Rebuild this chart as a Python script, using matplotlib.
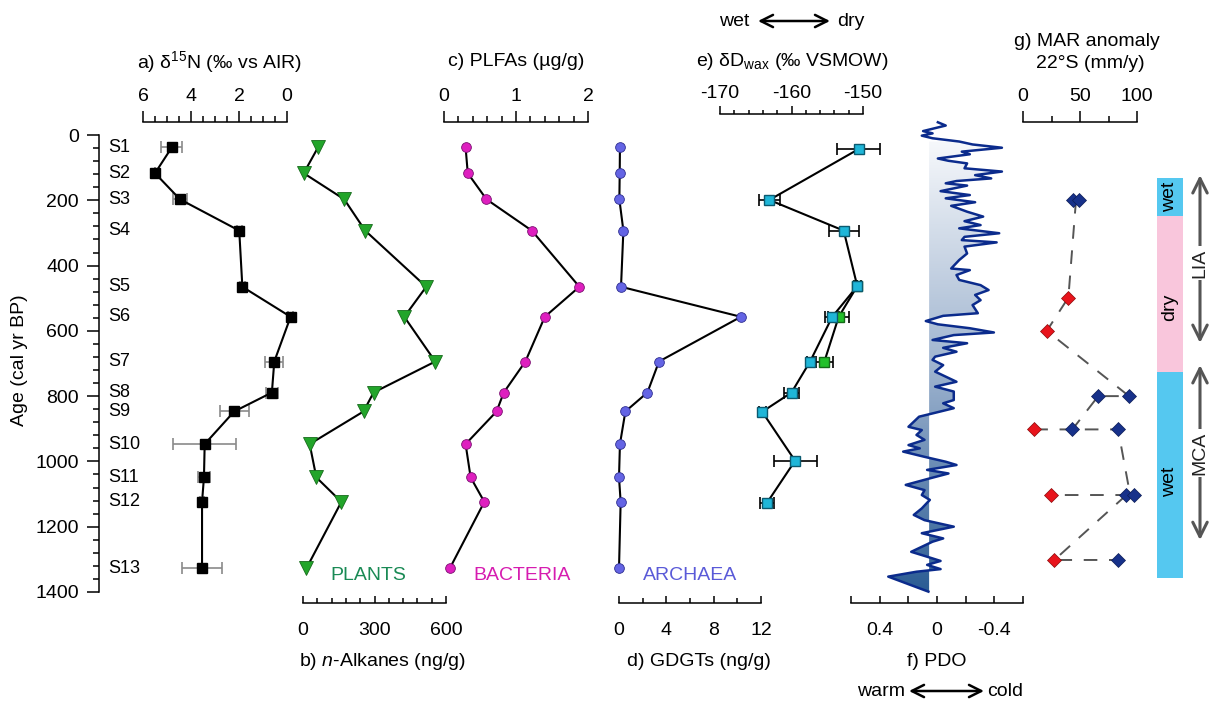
import matplotlib.pyplot as plt
import numpy as np
from matplotlib.ticker import MultipleLocator, FixedLocator
from matplotlib.colors import LinearSegmentedColormap

plt.rcParams['font.family'] = ['Liberation Sans', 'DejaVu Sans']
plt.rcParams['mathtext.fontset'] = 'custom'
plt.rcParams['mathtext.rm'] = 'Liberation Sans'
plt.rcParams['mathtext.it'] = 'Liberation Sans:italic'
plt.rcParams['axes.unicode_minus'] = False
plt.rcParams['font.size'] = 14

# ---- data ----
sample_names = ['S1', 'S2', 'S3', 'S4', 'S5', 'S6', 'S7', 'S8', 'S9', 'S10', 'S11', 'S12', 'S13']
sample_age = [38, 117, 197, 293, 465, 557, 694, 789, 847, 947, 1049, 1124, 1328]

d15n = [4.8, 5.5, 4.46, 1.99, 1.86, -0.15, 0.53, 0.63, 2.2, 3.43, 3.46, 3.54, 3.54]
d15n_err = [0.44, 0.0, 0.28, 0.1, 0.1, 0.1, 0.38, 0.25, 0.6, 1.3, 0.24, 0.1, 0.82]

alkanes = [63, 3, 173, 261, 517, 425, 555, 296, 254, 28, 56, 161, 14]
plfa = [0.30, 0.33, 0.59, 1.22, 1.88, 1.40, 1.13, 0.83, 0.73, 0.30, 0.37, 0.56, 0.08]
gdgt = [0.08, 0.06, 0.03, 0.37, 0.17, 10.3, 3.38, 2.4, 0.54, 0.08, 0.0, 0.14, 0.0]

dd_age = [43, 199, 293, 463, 557, 694, 789, 848, 998, 1126]
dd_val = [-150.6, -163.1, -152.7, -150.8, -154.3, -157.4, -160.0, -164.1, -159.5, -163.4]
dd_err = [3.0, 1.5, 2.1, 0.5, 1.0, 0.5, 1.1, 0.5, 3.0, 1.0]
dd2_age = [463, 557, 694]
dd2_val = [-150.8, -153.4, -155.4]
dd2_err = [0.0, 1.5, 1.2]

pdo_age = [-39, -29, -12, -5, 2, 10, 20, 29, 39, 51, 59, 72, 79, 87, 102, 112, 123, 133,
           141, 148, 155, 172, 184, 194, 206, 217, 235, 250, 264, 276, 286, 301, 312, 322,
           329, 342, 363, 383, 409, 414, 429, 444, 460, 475, 490, 506, 521, 546, 554, 570,
           580, 592, 605, 613, 628, 638, 652, 664, 679, 689, 705, 725, 756, 771, 786, 812,
           822, 837, 853, 863, 894, 904, 919, 934, 950, 960, 970, 986, 1001, 1011, 1026,
           1037, 1052, 1072, 1088, 1103, 1118, 1144, 1164, 1180, 1200, 1220, 1236, 1246,
           1277, 1292, 1305, 1317, 1330, 1338, 1353, 1399]
pdo_val = [-0.006, -0.061, 0.097, 0.031, 0.106, 0.031, -0.155, -0.248, -0.453, -0.173,
           -0.229, -0.006, -0.080, -0.210, -0.192, -0.453, -0.266, -0.378, -0.136, -0.061,
           -0.210, -0.025, -0.229, -0.061, -0.266, -0.099, -0.210, -0.322, -0.192, -0.304,
           -0.155, -0.434, -0.192, -0.173, -0.416, -0.192, -0.210, -0.155, -0.099, -0.229,
           -0.136, -0.155, -0.304, -0.360, -0.266, -0.304, -0.248, -0.285, -0.043, 0.078,
           -0.006, -0.229, -0.397, -0.117, 0.031, -0.210, -0.043, -0.136, 0.013, 0.031,
           -0.043, 0.013, -0.136, 0.013, -0.117, -0.117, -0.043, -0.117, 0.031, 0.125,
           0.199, 0.106, 0.143, 0.087, 0.199, 0.120, 0.236, 0.087, -0.061, -0.136, 0.069,
           -0.080, 0.050, 0.218, 0.087, 0.106, 0.050, 0.106, 0.162, 0.087, -0.117, 0.106,
           -0.043, 0.031, 0.180, 0.069, -0.025, 0.069, -0.025, 0.143, 0.340, 0.060]
pdo_base = 0.055

mar_blue_age = [199, 199, 800, 800, 902, 902, 1103, 1103, 1302]
mar_blue_val = [43.6, 49.4, 66, 93, 43.3, 83.4, 90.7, 97.1, 83.4]
mar_red_age = [498, 600, 902, 1103, 1302]
mar_red_val = [39.8, 20.9, 9.9, 24.4, 27.5]
mar_paths = [([199, 498, 600, 800, 800, 902], [46.5, 39.8, 20.9, 93, 66, 43.3]),
             ([902, 902, 1103, 1103], [9.9, 83.4, 94, 24.4]),
             ([1103, 1302, 1302], [90.7, 27.5, 83.4])]

period_edges = [133, 248, 725, 1358]
period_names = ['wet', 'dry', 'wet']
period_colors = ['#55c8f0', '#f9c6dc', '#55c8f0']

# ---- layout helpers (pixels) ----
W, H = 1213, 701
fig = plt.figure(figsize=(W / 100, H / 100), dpi=100)


def age_of(ypx):
    return (ypx - 135) / 0.3264


def rect(x0, x1, y0=122, y1=603):
    return [x0 / W, 1 - y1 / H, (x1 - x0) / W, (y1 - y0) / H]


def panel(x0, x1, xlim, side, y0=122, y1=603):
    ax = fig.add_axes(rect(x0, x1, y0, y1))
    ax.set_xlim(*xlim)
    ax.set_ylim(age_of(y1), age_of(y0))
    ax.patch.set_visible(False)
    for s in ax.spines.values():
        s.set_visible(False)
    ax.spines[side].set_visible(True)
    ax.spines[side].set_linewidth(1.1)
    ax.yaxis.set_visible(False)
    ax.xaxis.set_ticks_position(side)
    if side == 'top':
        ax.tick_params(axis='x', which='major', direction='out', length=8, width=1.1, pad=4)
        ax.tick_params(axis='x', which='minor', direction='out', length=4, width=1.1)
    else:
        ax.tick_params(axis='x', which='major', direction='in', length=5, width=1.1, pad=14)
        ax.tick_params(axis='x', which='minor', direction='in', length=3.5, width=1.1)
    return ax


def ftext(x, y, s, **kw):
    fig.text(x / W, 1 - y / H, s, **kw)


def farrow(x0, x1, y):
    fig.add_artist(plt.Annotation('', xy=(x1 / W, 1 - y / H), xytext=(x0 / W, 1 - y / H),
                                  xycoords='figure fraction',
                                  arrowprops=dict(arrowstyle='<->', lw=1.8, color='black',
                                                  mutation_scale=22, shrinkA=0, shrinkB=0)))


# ---- age axis ----
ax0 = fig.add_axes(rect(99, 140))
ax0.set_ylim(age_of(603), age_of(122))
ax0.patch.set_visible(False)
for s in ['top', 'right', 'bottom']:
    ax0.spines[s].set_visible(False)
ax0.spines['left'].set_bounds(0, 1400)
ax0.spines['left'].set_linewidth(1.1)
ax0.set_xticks([])
ax0.set_yticks(np.arange(0, 1401, 200))
ax0.yaxis.set_minor_locator(FixedLocator([v for v in range(0, 1401, 40) if v % 200]))
ax0.tick_params(axis='y', which='major', length=8.5, width=1.1, pad=6)
ax0.tick_params(axis='y', which='minor', length=4, width=1.1)
ax0.set_xlim(0, 1)
for name, a in zip(sample_names, sample_age):
    ax0.text(0.22, a, name, fontsize=13, va='center', ha='left')
ftext(20, 360, 'Age (cal yr BP)', rotation=90, ha='center', va='center')

# ---- a) d15N ----
ax_a = panel(143, 287, (6, 0), 'top')
ax_a.xaxis.set_major_locator(MultipleLocator(2))
ax_a.xaxis.set_minor_locator(MultipleLocator(0.5))
ax_a.errorbar(d15n, sample_age, xerr=d15n_err, fmt='s-', color='black', ms=7, lw=1.5,
              ecolor='#8a8a8a', elinewidth=1.2, capsize=4, capthick=1.2, clip_on=False)
ftext(220, 62, 'a) δ$^{15}$N (‰ vs AIR)', ha='center', va='center')

# ---- b) n-alkanes ----
ax_b = panel(303, 446, (0, 600), 'bottom')
ax_b.xaxis.set_major_locator(MultipleLocator(300))
ax_b.xaxis.set_minor_locator(MultipleLocator(60))
ax_b.plot(alkanes, sample_age, '-', color='black', lw=1.5, zorder=2, clip_on=False)
ax_b.plot(alkanes, sample_age, 'v', ms=9.5, mfc='#22a52a', mec='#176b1c', mew=0.6,
          zorder=3, clip_on=False)
ftext(368, 576, 'PLANTS', color='#1a8a55', ha='center', va='center')
ftext(382, 662, 'b) $\\mathit{n}$-Alkanes (ng/g)', ha='center', va='center')

# ---- c) PLFAs ----
ax_c = panel(444, 588, (0, 2), 'top')
ax_c.xaxis.set_major_locator(MultipleLocator(1))
ax_c.xaxis.set_minor_locator(MultipleLocator(0.2))
ax_c.plot(plfa, sample_age, '-', color='black', lw=1.5, zorder=2, clip_on=False)
ax_c.plot(plfa, sample_age, 'o', ms=7, mfc='#de1fbf', mec='#7a1070', mew=0.6,
          zorder=3, clip_on=False)
ftext(522, 576, 'BACTERIA', color='#d61cb0', ha='center', va='center')
ftext(516, 62, 'c) PLFAs (µg/g)', ha='center', va='center')

# ---- d) GDGTs ----
ax_d = panel(619, 761, (0, 12), 'bottom')
ax_d.xaxis.set_major_locator(MultipleLocator(4))
ax_d.xaxis.set_minor_locator(MultipleLocator(2))
ax_d.plot(gdgt, sample_age, '-', color='black', lw=1.5, zorder=2, clip_on=False)
ax_d.plot(gdgt, sample_age, 'o', ms=7, mfc='#6464e4', mec='#2e2e90', mew=0.6,
          zorder=3, clip_on=False)
ftext(690, 576, 'ARCHAEA', color='#5a5ad8', ha='center', va='center')
ftext(699, 662, 'd) GDGTs (ng/g)', ha='center', va='center')

# ---- e) dD wax ----
ax_e = panel(720, 863, (-170, -150), 'top', y0=114)
ax_e.xaxis.set_major_locator(MultipleLocator(10))
ax_e.xaxis.set_minor_locator(MultipleLocator(2))
ax_e.tick_params(axis='x', which='major', length=6, pad=3)
ax_e.tick_params(axis='x', which='minor', length=3)
ax_e.errorbar(dd2_val, dd2_age, xerr=dd2_err, fmt='s-', color='black', mfc='#22c02a',
              mec='#146a18', ms=7, lw=1.5, ecolor='black', elinewidth=1.2, capsize=4.5,
              capthick=1.2, clip_on=False)
ax_e.errorbar(dd_val, dd_age, xerr=dd_err, fmt='s-', color='black', mfc='#1fb6d8',
              mec='#0b5a70', ms=7, lw=1.5, ecolor='black', elinewidth=1.2, capsize=4.5,
              capthick=1.2, clip_on=False)
ftext(792, 62, 'e) δD$_{\\mathrm{wax}}$ (‰ VSMOW)', ha='center', va='center')
ftext(749, 21, 'wet', ha='right', va='center')
ftext(837, 21, 'dry', ha='left', va='center')
farrow(758, 830, 21)

# ---- f) PDO ----
ax_f = panel(851, 1023, (0.6, -0.6), 'bottom')
ax_f.xaxis.set_major_locator(FixedLocator([0.4, 0, -0.4]))
ax_f.xaxis.set_minor_locator(FixedLocator([0.6, 0.2, -0.2, -0.6]))
ax_f.set_xticklabels(['0.4', '0', '-0.4'])
ax_f.tick_params(axis='x', which='minor', length=5)
pa = np.array(pdo_age, float)
pv = np.array(pdo_val, float)
m = pa >= 20
poly = ax_f.fill_betweenx(pa[m], pdo_base, pv[m], facecolor='none', edgecolor='none')
grad = np.linspace(0, 1, 256).reshape(-1, 1)
cmap = LinearSegmentedColormap.from_list('pdo', ['#f6f8fb', '#9fb4cf', '#2b5c94'])
im = ax_f.imshow(grad, cmap=cmap, aspect='auto', extent=(0.6, -0.6, 1400, 20),
                 origin='upper', zorder=1)
im.set_clip_path(poly.get_paths()[0], transform=ax_f.transData)
ax_f.set_xlim(0.6, -0.6)
ax_f.set_ylim(age_of(603), age_of(122))
ax_f.plot(pv, pa, '-', color='#0b2b8c', lw=1.8, zorder=3, clip_on=False)
ftext(937, 661, 'f) PDO', ha='center', va='center')
ftext(905, 691, 'warm', ha='right', va='center')
ftext(987, 691, 'cold', ha='left', va='center')
farrow(909, 984, 691)

# ---- g) MAR anomaly ----
ax_g = panel(1023, 1137, (0, 100), 'top')
ax_g.xaxis.set_major_locator(MultipleLocator(50))
ax_g.xaxis.set_minor_locator(MultipleLocator(25))
for ages, vals in mar_paths:
    ax_g.plot(vals, ages, color='#555555', lw=1.4, dashes=(7, 6), zorder=2, clip_on=False)
ax_g.plot(mar_blue_val, mar_blue_age, 'D', ms=7.5, mfc='#17318a', mec='#0c1c55', mew=0.5,
          zorder=3, clip_on=False)
ax_g.plot(mar_red_val, mar_red_age, 'D', ms=7.5, mfc='#e8141c', mec='#8a0a0a', mew=0.5,
          zorder=3, clip_on=False)
ftext(1087, 42, 'g) MAR anomaly', ha='center', va='center')
ftext(1090, 64, '22°S (mm/y)', ha='center', va='center')

# ---- climate periods bar ----
ax_p = fig.add_axes(rect(1157, 1183))
ax_p.set_ylim(age_of(603), age_of(122))
ax_p.set_xlim(0, 1)
ax_p.axis('off')
for i in range(3):
    ax_p.axhspan(period_edges[i], period_edges[i + 1], color=period_colors[i], lw=0)
label_ages = [190, 527, 1062]
for name, a in zip(period_names, label_ages):
    ax_p.text(0.5, a, name, rotation=90, ha='center', va='center', fontsize=14)

ax_r = fig.add_axes(rect(1188, 1212))
ax_r.set_ylim(age_of(603), age_of(122))
ax_r.set_xlim(0, 1)
ax_r.axis('off')
for top, bot, lab, mid in [(123, 637, 'LIA', 392), (705, 1241, 'MCA', 974)]:
    ax_r.annotate('', xy=(0.5, top), xytext=(0.5, bot),
                  arrowprops=dict(arrowstyle='<->', lw=2.2, color='#555555',
                                  mutation_scale=26, shrinkA=0, shrinkB=0))
    ax_r.text(0.5, mid, lab, rotation=90, ha='center', va='center', fontsize=14,
              color='#222222', bbox=dict(facecolor='white', edgecolor='none', pad=2))

fig.savefig('out.png', dpi=100)
